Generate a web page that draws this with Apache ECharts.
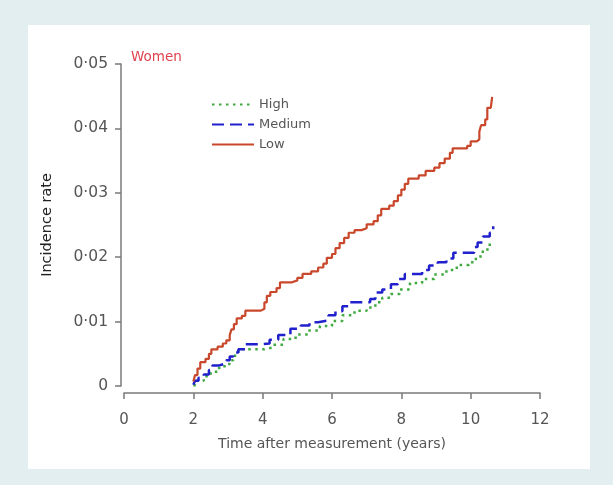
<!DOCTYPE html>
<html>
<head>
<meta charset="utf-8">
<script src="https://cdn.jsdelivr.net/npm/echarts@6/dist/echarts.min.js"></script>
<style>
  html, body { margin:0; padding:0; width:613px; height:485px; background:#e3eef0; overflow:hidden; }
  #panel { position:absolute; left:28px; top:25px; width:562px; height:444px; background:#ffffff; }
  #chart { position:absolute; left:0; top:0; width:613px; height:485px; }
</style>
</head>
<body>
<div id="panel"></div>
<div id="chart"></div>
<script>
// ---- data (time in years, cumulative incidence) ----
var seriesNames = ['High', 'Medium', 'Low'];
var xTicks = [0, 2, 4, 6, 8, 10, 12];
var yTickLabels = ['0', '0·01', '0·02', '0·03', '0·04', '0·05'];

var highData = [
  [2.0,0.0001],[2.1,0.0008],[2.3,0.0015],[2.5,0.0022],[2.7,0.0028],[2.9,0.0034],[3.05,0.0040],
  [3.15,0.0047],[3.25,0.0053],[3.4,0.0057],[4.05,0.0060],[4.3,0.0064],[4.6,0.0073],[4.95,0.0080],
  [5.3,0.0086],[5.65,0.0093],[6.0,0.0101],[6.3,0.0110],[6.65,0.0117],[7.0,0.0122],[7.25,0.0130],
  [7.45,0.0137],[7.7,0.0143],[7.95,0.0150],[8.25,0.0160],[8.6,0.0166],[8.95,0.0173],[9.3,0.0180],
  [9.6,0.0188],[9.95,0.0192],[10.15,0.0201],[10.35,0.0212],[10.55,0.0222]
];
var mediumData = [
  [2.0,0.0002],[2.05,0.0008],[2.15,0.0013],[2.3,0.0018],[2.45,0.0025],[2.55,0.0032],[2.75,0.0035],
  [2.95,0.0040],[3.05,0.0046],[3.15,0.0052],[3.3,0.0057],[3.5,0.0065],[4.0,0.0066],[4.2,0.0072],
  [4.45,0.0079],[4.8,0.0089],[5.1,0.0094],[5.35,0.0099],[5.6,0.0102],[5.9,0.0110],[6.1,0.0116],
  [6.3,0.0124],[6.5,0.0130],[7.1,0.0135],[7.25,0.0145],[7.45,0.0150],[7.7,0.0158],[7.9,0.0166],
  [8.1,0.0174],[8.6,0.0180],[8.8,0.0187],[9.05,0.0192],[9.3,0.0198],[9.5,0.0207],[10.1,0.0216],
  [10.2,0.0223],[10.35,0.0232],[10.55,0.0238],[10.65,0.0248]
];
var lowData = [
  [2.0,0.0007],[2.05,0.0017],[2.12,0.0027],[2.2,0.0037],[2.35,0.0042],[2.45,0.0050],[2.52,0.0057],
  [2.7,0.0061],[2.85,0.0066],[2.95,0.0071],[3.05,0.0079],[3.1,0.0088],[3.17,0.0096],[3.25,0.0105],
  [3.4,0.0109],[3.5,0.0117],[3.95,0.0120],[4.05,0.0130],[4.12,0.0140],[4.22,0.0146],[4.4,0.0152],
  [4.5,0.0161],[4.85,0.0164],[5.0,0.0168],[5.15,0.0174],[5.4,0.0178],[5.6,0.0184],[5.75,0.0190],
  [5.85,0.0199],[6.0,0.0205],[6.1,0.0214],[6.22,0.0222],[6.35,0.0230],[6.48,0.0238],[6.65,0.0242],
  [6.85,0.0245],[7.0,0.0251],[7.2,0.0256],[7.32,0.0265],[7.42,0.0275],[7.65,0.0280],[7.78,0.0287],
  [7.9,0.0296],[8.0,0.0305],[8.1,0.0314],[8.2,0.0322],[8.5,0.0327],[8.7,0.0334],[8.95,0.0339],
  [9.1,0.0346],[9.25,0.0353],[9.4,0.0362],[9.48,0.0369],[9.9,0.0373],[10.0,0.0380],[10.18,0.0383],
  [10.25,0.0395],[10.3,0.0405],[10.42,0.0414],[10.48,0.0432],[10.58,0.0435],[10.62,0.0449]
];

var chart = echarts.init(document.getElementById('chart'), null, { renderer: 'canvas' });
var FONT = 'DejaVu Sans, Verdana, sans-serif';
var axisGray = '#7a7a7a';

chart.setOption({
  backgroundColor: 'transparent',
  animation: false,
  textStyle: { fontFamily: FONT },
  title: {
    text: 'Women', left: 126, top: 45,
    textStyle: { color: '#e0434f', fontSize: 13.5, fontWeight: 'normal', fontFamily: FONT }
  },
  legend: {
    orient: 'vertical', left: 206, top: 93,
    itemWidth: 42, itemHeight: 14, itemGap: 7,
    data: seriesNames,
    itemStyle: { opacity: 0 },
    textStyle: { color: '#555', fontSize: 13, fontFamily: FONT }
  },
  grid: { left: 124, right: 73, top: 64, bottom: 99, containLabel: false },
  xAxis: {
    type: 'value', min: 0, max: 12, interval: 2, offset: 7,
    name: 'Time after measurement (years)', nameLocation: 'middle', nameGap: 44,
    nameTextStyle: { color: '#555', fontSize: 14, fontFamily: FONT },
    axisLine: { show: true, onZero: false, lineStyle: { color: axisGray, width: 1.5 } },
    axisTick: { show: true, length: 6, lineStyle: { color: axisGray, width: 1.5 } },
    axisLabel: { color: '#555', fontSize: 15, margin: 20, fontFamily: FONT,
      formatter: function (v) { return xTicks.indexOf(v) >= 0 ? String(v) : ''; } },
    splitLine: { show: false }
  },
  yAxis: {
    type: 'value', min: 0, max: 0.05, interval: 0.01, offset: 3,
    name: 'Incidence rate', nameLocation: 'middle', nameGap: 66, nameRotate: 90,
    nameTextStyle: { color: '#222', fontSize: 14.5, fontFamily: FONT },
    axisLine: { show: true, onZero: false, lineStyle: { color: axisGray, width: 1.5 } },
    axisTick: { show: true, length: 6, lineStyle: { color: axisGray, width: 1.5 } },
    axisLabel: { color: '#555', fontSize: 15.5, margin: 13, fontFamily: FONT,
      formatter: function (v) { return yTickLabels[Math.round(v / 0.01)]; } },
    splitLine: { show: false }
  },
  series: [
    { name: seriesNames[0], type: 'line', step: 'end', data: highData, symbol: 'none', z: 3,
      lineStyle: { color: '#3faa3f', width: 2.5, type: [2.5, 4.5] }, itemStyle: { color: '#3faa3f' } },
    { name: seriesNames[1], type: 'line', step: 'end', data: mediumData, symbol: 'none', z: 4,
      lineStyle: { color: '#2020cc', width: 2.5, type: [12, 6] }, itemStyle: { color: '#2020cc' } },
    { name: seriesNames[2], type: 'line', step: 'end', data: lowData, symbol: 'none', z: 5,
      lineStyle: { color: '#c9482c', width: 2.2, type: 'solid' }, itemStyle: { color: '#c9482c' } }
  ]
});
</script>
</body>
</html>
